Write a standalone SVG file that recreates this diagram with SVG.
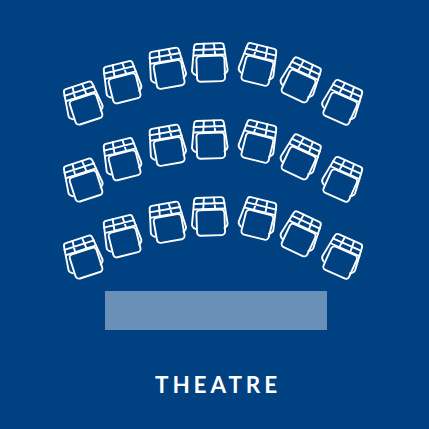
<svg xmlns="http://www.w3.org/2000/svg" width="429" height="429" viewBox="0 0 429 429">
<style>
.c{fill:none;stroke:#fff;stroke-width:1.9;stroke-linecap:round;stroke-linejoin:round}
.t{font-family:"Lato","Open Sans",sans-serif;font-size:22.500px;font-weight:700;fill:#fff;letter-spacing:3.900px}
</style>
<defs>
<g id="chair" class="c">
<path d="M-12,-18.500H12Q14.500,-18.500 14.800,-16L17.800,8Q18,10.500 14.500,12.500M-12,-18.500Q-14.500,-18.500 -14.800,-16L-17.800,8Q-18,10.500 -14.500,12.500"/>
<path d="M-15.500,-12.500H15.500M-15,-7H16M-5,-18.500L-6,-7M5,-18.500L6,-7"/>
<rect x="-13" y="-6" width="28" height="25.500" rx="3.500"/>
</g>
<g id="row">
<use href="#chair" transform="translate(83,103) rotate(-18)"/>
<use href="#chair" transform="translate(122,82) rotate(-14)"/>
<use href="#chair" transform="translate(167,68) rotate(-10)"/>
<use href="#chair" transform="translate(209.500,62) rotate(-2)"/>
<use href="#chair" transform="translate(258,64) rotate(14)"/>
<use href="#chair" transform="translate(300.500,79.500) rotate(25)"/>
<use href="#chair" transform="translate(342,102) rotate(24)"/>
</g>
</defs>
<rect width="429" height="429" fill="#004182"/>
<g id="row-1"><use href="#row"/></g>
<g id="row-2"><use href="#row" y="77"/></g>
<g id="row-3"><use href="#row" y="154"/></g>
<rect id="stage" x="105" y="291" width="222" height="39" fill="#6a90b8"/>
<text id="label" class="t" x="218" y="393" text-anchor="middle">THEATRE</text>
</svg>
